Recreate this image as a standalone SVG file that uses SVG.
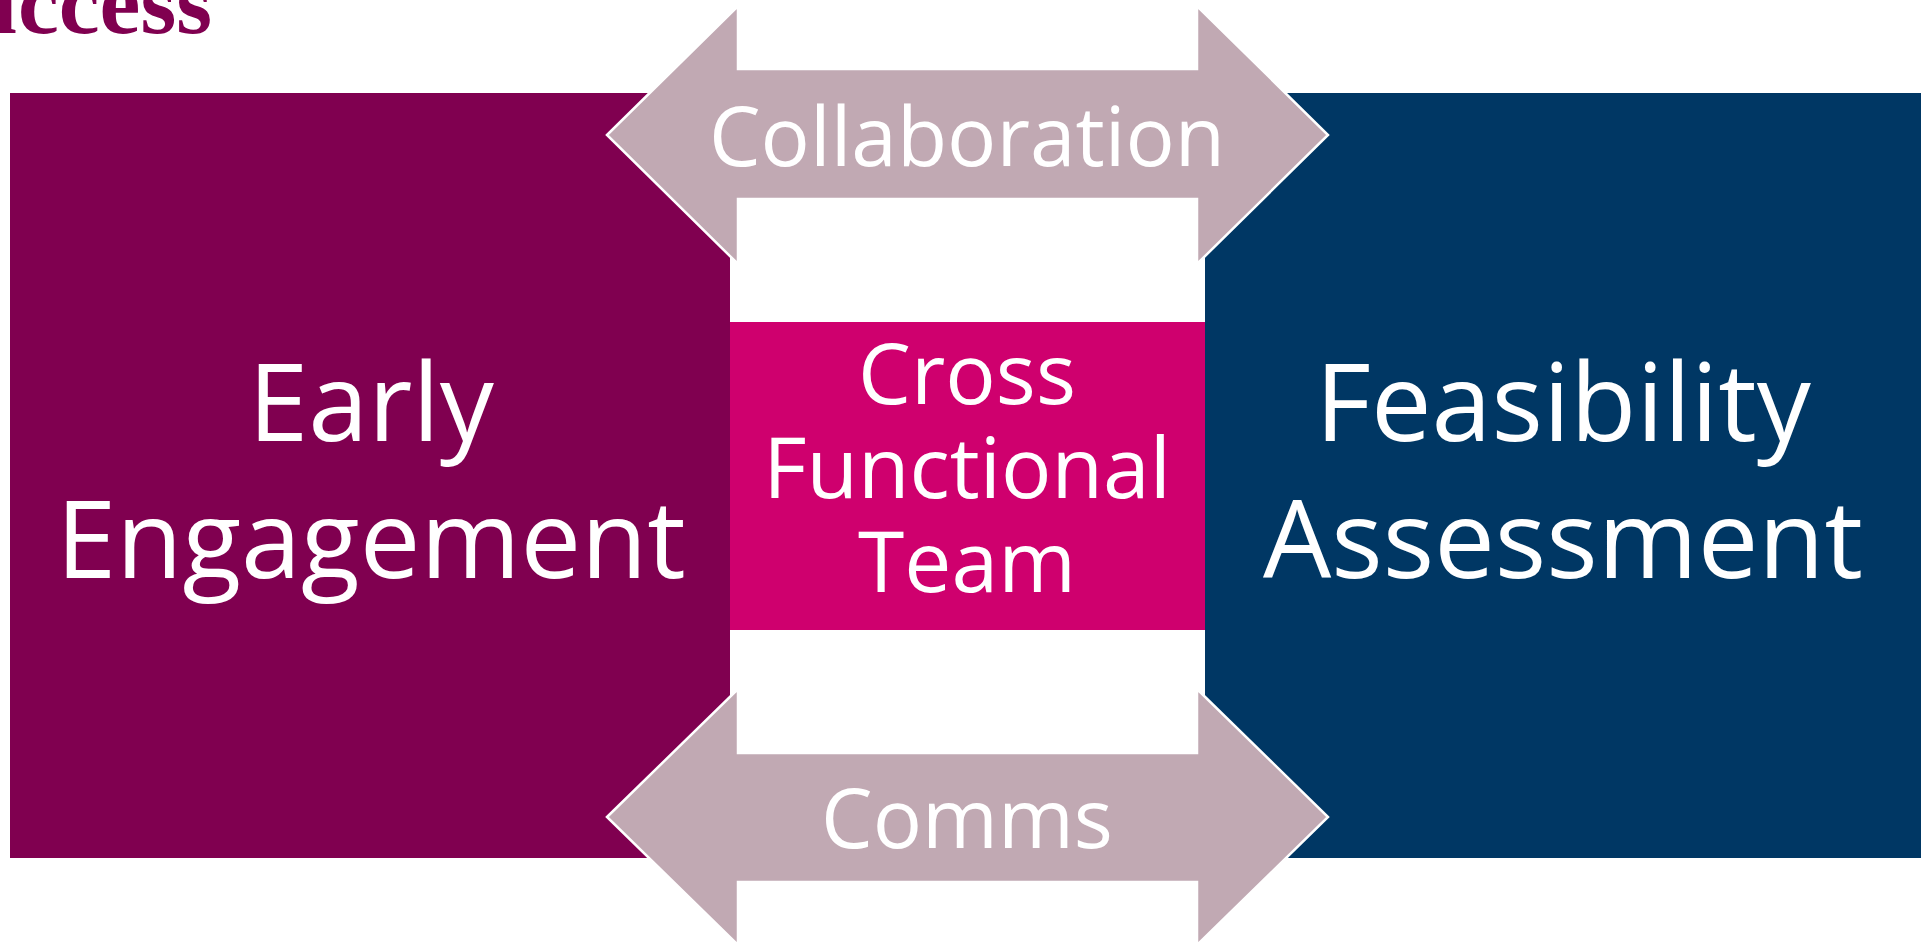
<svg xmlns="http://www.w3.org/2000/svg" width="1921" height="944" viewBox="0 0 1921 944">
<style>
.lbl{font-family:"Open Sans","Noto Sans","DejaVu Sans",sans-serif;fill:#ffffff;text-anchor:middle}
.big{font-size:108px}
.mid{font-size:84px}
.arr{font-size:82px}
.arrow{fill:#C1A9B3;stroke:#ffffff;stroke-width:2.5;stroke-linejoin:miter}
</style>
<rect width="1921" height="944" fill="#ffffff"/>
<text x="212" y="33" font-family="'Liberation Serif',serif" font-weight="bold" font-size="92" fill="#800050" text-anchor="end">Success</text>
<g id="early-engagement">
<rect x="10" y="93" width="720" height="765" fill="#800050"/>
<text class="lbl big" x="371" y="441">Early</text>
<text class="lbl big" x="371" y="578">Engagement</text>
</g>
<g id="feasibility-assessment">
<rect x="1205" y="93" width="716" height="765" fill="#003764"/>
<text class="lbl big" x="1563" y="441">Feasibility</text>
<text class="lbl big" x="1563" y="578">Assessment</text>
</g>
<g id="cross-functional-team">
<rect x="730" y="322" width="475" height="308" fill="#CF006E"/>
<text class="lbl mid" x="967" y="404">Cross</text>
<text class="lbl mid" x="967" y="498">Functional</text>
<text class="lbl mid" x="967" y="592">Team</text>
</g>
<g id="connectors">
<g id="collaboration">
<polygon class="arrow" points="607,135 738,6 738,69 1197,69 1197,6 1328,135 1197,264 1197,199 738,199 738,264"/>
<text class="lbl arr" x="967" y="166">Collaboration</text>
</g>
<g id="comms">
<polygon class="arrow" points="607,817 738,689 738,753 1197,753 1197,689 1328,817 1197,945 1197,882 738,882 738,945"/>
<text class="lbl arr" x="967" y="848">Comms</text>
</g>
</g>
</svg>
